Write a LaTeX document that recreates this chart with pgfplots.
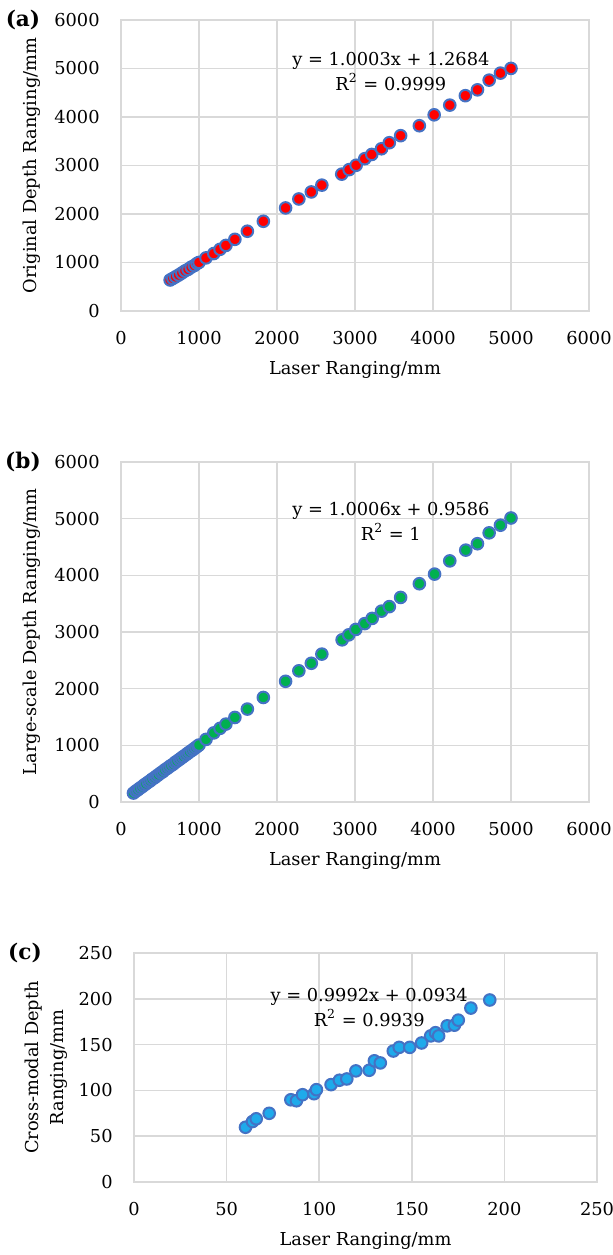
\documentclass[border=0pt]{standalone}
\usepackage{fontspec}
\setmainfont{DejaVu Serif}
\usepackage{pgfplots}
\pgfplotsset{compat=1.18}

\definecolor{gridgray}{RGB}{217,217,217}
\definecolor{edgeblue}{RGB}{68,114,196}
\definecolor{ptred}{RGB}{255,0,0}
\definecolor{ptgreen}{RGB}{0,176,80}
\definecolor{ptcyan}{RGB}{30,170,235}

\pgfplotsset{
  panel/.style={
    scale only axis,
    axis line style={draw=gridgray, line width=0.8pt},
    grid=major,
    major grid style={draw=gridgray, line width=0.8pt},
    major tick length=0pt,
    tick style={draw=none},
    xticklabel shift=10pt,
    yticklabel shift=10.5pt,
    every tick label/.append style={inner sep=0pt},
    /pgf/number format/assume math mode=true,
    /pgf/number format/1000 sep={},
    scaled ticks=false,
    xlabel style={at={(axis description cs:0.5,0)}, anchor=center, yshift=-29.5pt},
    xlabel={Laser Ranging/mm},
  },
  dots/.style={only marks, mark=*, mark size=2.9pt,
    mark options={draw=edgeblue, line width=1pt, fill=#1}},
}

\begin{document}
\fontsize{8.9}{12.5}\selectfont
\begin{tikzpicture}
\useasboundingbox (0,0) rectangle (306.5pt,-627.5pt);

% (a)
\node[font=\bfseries\fontsize{10.8}{13}\selectfont] at (11.5pt,-10pt) {(a)};
\begin{axis}[panel, at={(60.5pt,-10pt)}, anchor=north west,
    width=234pt, height=145.5pt,
    xmin=0, xmax=6000, ymin=0, ymax=6000,
    xtick={0,1000,...,6000}, ytick={0,1000,...,6000},
    ylabel={Original Depth Ranging/mm},
    ylabel style={at={(axis description cs:-0.19,0.5)}, anchor=center}]
\addplot[dots=ptred] table {
630 640
665 672
700 705
740 742
780 783
820 826
860 858
900 904
940 938
975 980
1000 1002
1090 1095
1190 1185
1270 1272
1345 1352
1460 1478
1620 1645
1825 1850
2110 2125
2280 2310
2440 2455
2575 2595
2830 2822
2925 2915
3015 3005
3125 3140
3215 3228
3340 3345
3440 3470
3585 3615
3825 3820
4015 4045
4215 4245
4415 4440
4570 4560
4720 4760
4865 4905
5000 5002
};
\node[align=center] at (axis cs:3460,4940) {y = 1.0003x + 1.2684\\R\textsuperscript{2} = 0.9999};
\end{axis}

% (b)
\node[font=\bfseries\fontsize{10.8}{13}\selectfont] at (11.5pt,-231pt) {(b)};
\begin{axis}[panel, at={(60.5pt,-231pt)}, anchor=north west,
    width=234pt, height=170pt,
    xmin=0, xmax=6000, ymin=0, ymax=6000,
    xtick={0,1000,...,6000}, ytick={0,1000,...,6000},
    ylabel={Large-scale Depth Ranging/mm},
    ylabel style={at={(axis description cs:-0.19,0.5)}, anchor=center}]
\addplot[dots=ptgreen] table {
160 158
190 192
215 214
240 243
270 268
295 298
320 321
350 352
375 374
400 404
430 429
455 458
480 481
510 514
535 533
560 565
590 591
615 618
640 642
670 668
695 699
720 723
750 752
775 778
800 803
830 832
855 858
880 884
910 912
935 938
960 963
985 990
1000 1005
1090 1105
1190 1220
1270 1300
1345 1375
1460 1492
1620 1640
1825 1845
2110 2130
2280 2315
2440 2448
2575 2610
2835 2862
2920 2950
3010 3045
3125 3148
3220 3240
3340 3368
3440 3448
3585 3610
3825 3852
4020 4022
4215 4255
4420 4445
4570 4558
4720 4750
4865 4885
5000 5012
};
\node[align=center] at (axis cs:3460,4960) {y = 1.0006x + 0.9586\\R\textsuperscript{2} = 1};
\end{axis}

% (c)
\node[font=\bfseries\fontsize{10.8}{13}\selectfont] at (12.5pt,-476.5pt) {(c)};
\begin{axis}[panel, at={(67pt,-476.5pt)}, anchor=north west,
    width=231.5pt, height=114.5pt,
    xmin=0, xmax=250, ymin=0, ymax=250,
    xtick={0,50,...,250}, ytick={0,50,...,250},
    ylabel={Cross-modal Depth\\Ranging/mm},
    ylabel style={at={(axis description cs:-0.19,0.5)}, anchor=center, align=center}]
\addplot[dots=ptcyan] table {
60.2 59.8
64 66
66 69
73 75
84.7 89.8
87.7 88.7
91 95.3
97.2 96.4
98.5 100.8
106.4 106.3
110.9 111.1
114.9 112.5
119.8 121.3
127 122
129.8 132.3
133 130
140 143
143.2 147
148.9 147
155.3 151.8
160.2 159.5
162.8 163
164.5 159.5
169.1 170.5
173 171.2
175.1 176.7
181.9 189.9
192.1 198.7
};
\node[align=center] at (axis cs:127,191) {y = 0.9992x + 0.0934\\R\textsuperscript{2} = 0.9939};
\end{axis}
\end{tikzpicture}
\end{document}
